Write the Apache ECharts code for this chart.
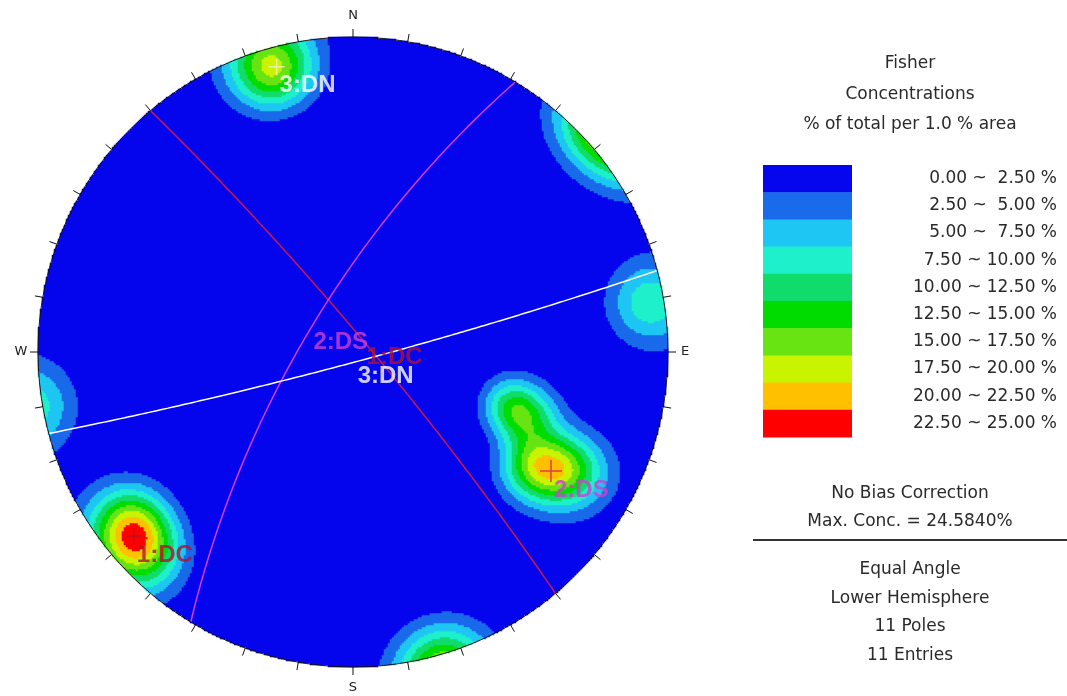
<!DOCTYPE html>
<html>
<head>
<meta charset="utf-8">
<title>Fisher Concentrations</title>
<script src="https://cdn.jsdelivr.net/npm/echarts@6/dist/echarts.min.js"></script>
<style>
  html, body { margin: 0; padding: 0; background: #fff; }
  #chart { width: 1067px; height: 696px; }
</style>
</head>
<body>
<div id="chart"></div>
<script>
// poles (degrees)
const poleTrend  = [233.0, 230.0, 226.0, 343.8, 344.5, 80.5, 123.2, 120.6, 118.4, 108.5, 110.9];
const polePlunge = [6.5, 5.5, 4.5, 3.1, 3.5, 2.5, 22.7, 17.7, 13.0, 34.6, 28.0];

// mean planes of the joint sets
const setNames    = ['1:DC', '2:DS', '3:DN'];
const setDipDir   = [50, 301, 165];
const setDip      = [84.5, 72.5, 86.3];
const lineColors  = ['#c81a4e', '#d83ce6', '#ffffff'];
const labelColors = ['#b0122e', '#cc40d4', '#ffffff'];
const crossColors = ['#b0122e', '#d0205a', '#f4f4c8'];

// contour classes
const levels = [0, 2.5, 5, 7.5, 10, 12.5, 15, 17.5, 20, 22.5, 25];
const levelColors = ['#0606ee', '#1a6aec', '#1ec6f4', '#1ef0cc', '#10dc6c',
                     '#00dc00', '#68e412', '#c8f400', '#ffc000', '#ff0000'];
const maxConc = 24.584;
const fisherK = 100;

const tickAngles = [0, 10, 20, 30, 40, 50, 60, 70, 80, 90, 100, 110, 120, 130, 140, 150, 160, 170,
                    180, 190, 200, 210, 220, 230, 240, 250, 260, 270, 280, 290, 300, 310, 320, 330, 340, 350];
const cardinalAngles = [0, 90, 180, 270];
const cardinalNames  = ['N', 'E', 'S', 'W'];

const infoLines = ['No Bias Correction', 'Max. Conc. = ' + maxConc.toFixed(4) + '%'];
const netLines  = ['Equal Angle', 'Lower Hemisphere', '11 Poles', '11 Entries'];

const rad = Math.PI / 180;
// east, north, down
function toVec(trend, plunge) {
  return [Math.cos(plunge * rad) * Math.sin(trend * rad),
          Math.cos(plunge * rad) * Math.cos(trend * rad),
          Math.sin(plunge * rad)];
}
// equal angle, lower hemisphere
function projVec(v) {
  return [v[0] / (1 + v[2]), v[1] / (1 + v[2])];
}
function project(trend, plunge) { return projVec(toVec(trend, plunge)); }

// fisher density on the net
const N = 315;
const poleVecs = poleTrend.map((t, i) => toVec(t, polePlunge[i]));
const cells = [];
let peak = 0;
for (let i = 0; i < N; i++) {
  for (let j = 0; j < N; j++) {
    const x = -1 + (i + 0.5) * 2 / N;
    const y = -1 + (j + 0.5) * 2 / N;
    const r2 = x * x + y * y;
    if (r2 > 1) continue;
    const d = 1 + r2;
    const e = 2 * x / d, n = 2 * y / d, dn = (1 - r2) / d;
    let s = 0;
    poleVecs.forEach(p => { s += Math.exp(fisherK * (Math.abs(e * p[0] + n * p[1] + dn * p[2]) - 1)); });
    cells.push([i, j, s]);
    if (s > peak) peak = s;
  }
}
cells.forEach(c => { c[2] = c[2] / peak * maxConc; });
const cats = Array.from({ length: N }, (_, i) => i);

// great circles
function greatCircle(dipDir, dip) {
  const sv = toVec(dipDir - 90, 0);
  const dv = toVec(dipDir, dip);
  const pts = [];
  for (let a = 0; a <= 180; a += 1) {
    const c = Math.cos(a * rad), s = Math.sin(a * rad);
    pts.push(projVec([c * sv[0] + s * dv[0], c * sv[1] + s * dv[1], Math.max(0, c * sv[2] + s * dv[2])]));
  }
  return pts;
}

const FONT = '"DejaVu Sans", sans-serif';
const LFONT = '"Liberation Sans", Arial, sans-serif';

const myChart = echarts.init(document.getElementById('chart'), null, { renderer: 'canvas' });

const graphics = [];
['Fisher', 'Concentrations', '% of total per 1.0 % area'].forEach((t, k) => {
  graphics.push({ type: 'text', x: 910, y: 64 + k * 30.5,
    style: { text: t, font: '17px ' + FONT, fill: '#2a2a2a', align: 'center', verticalAlign: 'middle' } });
});
levelColors.forEach((c, k) => {
  const y = 165 + k * 27.2;
  graphics.push({ type: 'rect', shape: { x: 763, y: y, width: 89, height: 27.7 }, style: { fill: c } });
  const lab = levels[k].toFixed(2) + ' ~ ' + levels[k + 1].toFixed(2).padStart(5, ' ') + ' %';
  graphics.push({ type: 'text', x: 1057, y: y + 13.6,
    style: { text: lab, font: '17px ' + FONT, fill: '#2a2a2a', align: 'right', verticalAlign: 'middle' } });
});
infoLines.forEach((t, k) => {
  graphics.push({ type: 'text', x: 910, y: 494 + k * 28,
    style: { text: t, font: '17px ' + FONT, fill: '#2a2a2a', align: 'center', verticalAlign: 'middle' } });
});
graphics.push({ type: 'line', shape: { x1: 753, y1: 540, x2: 1067, y2: 540 }, style: { stroke: '#333', lineWidth: 2 } });
netLines.forEach((t, k) => {
  graphics.push({ type: 'text', x: 910, y: 570 + k * 28.5,
    style: { text: t, font: '17px ' + FONT, fill: '#2a2a2a', align: 'center', verticalAlign: 'middle' } });
});

const series = [{
  type: 'heatmap',
  xAxisIndex: 0, yAxisIndex: 0,
  data: cells,
  progressive: 0,
  silent: true,
  z: 1
}];

setNames.forEach((name, k) => {
  series.push({
    type: 'line', xAxisIndex: 1, yAxisIndex: 1,
    data: greatCircle(setDipDir[k], setDip[k]),
    showSymbol: false, silent: true, z: 3,
    lineStyle: { color: lineColors[k], width: 1.5 }
  });
});

// net outline, ticks and compass letters
series.push({
  type: 'custom', xAxisIndex: 1, yAxisIndex: 1, silent: true, z: 4,
  data: tickAngles.map(a => [a]),
  renderItem(params, api) {
    const a = api.value(0);
    const c = api.coord([0, 0]);
    const R = api.size([1, 1])[0];
    const sx = Math.sin(a * rad), sy = -Math.cos(a * rad);
    const children = [{ type: 'line',
      shape: { x1: c[0] + R * sx, y1: c[1] + R * sy, x2: c[0] + (R + 8) * sx, y2: c[1] + (R + 8) * sy },
      style: { stroke: '#111', lineWidth: 1 } }];
    if (params.dataIndex === 0) {
      children.push({ type: 'circle', shape: { cx: c[0], cy: c[1], r: R },
        style: { fill: 'none', stroke: '#111', lineWidth: 1 } });
    }
    const ci = cardinalAngles.indexOf(a);
    if (ci >= 0) {
      const off = (a === 0 || a === 180) ? 21 : 17;
      children.push({ type: 'text', x: c[0] + (R + off) * sx, y: c[1] + (R + off) * sy,
        style: { text: cardinalNames[ci], font: '13px ' + FONT, fill: '#222', align: 'center', verticalAlign: 'middle' } });
    }
    return { type: 'group', children: children };
  }
});

// mean poles with labels
series.push({
  type: 'scatter', xAxisIndex: 1, yAxisIndex: 1, silent: true, z: 5,
  symbol: 'path://M0,10L20,10M10,0L10,20',
  data: setNames.map((name, k) => ({
    value: project(setDipDir[k] + 180, 90 - setDip[k]),
    name: name,
    symbolSize: k === 1 ? 22 : 16,
    itemStyle: { color: 'rgba(0,0,0,0)', borderColor: crossColors[k], borderWidth: 1.5 },
    label: { color: labelColors[k] }
  })),
  label: { show: true, formatter: '{b}', position: 'inside', align: 'left', verticalAlign: 'top',
    offset: [3, 7], fontFamily: LFONT, fontWeight: 'bold', fontSize: 24 }
});

// plane labels at the dip point of each great circle
series.push({
  type: 'scatter', xAxisIndex: 1, yAxisIndex: 1, silent: true, z: 5,
  symbolSize: 1,
  itemStyle: { color: 'rgba(0,0,0,0)' },
  data: setNames.map((name, k) => ({
    value: project(setDipDir[k], setDip[k]),
    name: name,
    label: { color: labelColors[k] }
  })),
  label: { show: true, formatter: '{b}', position: 'inside', align: 'left', verticalAlign: 'top',
    offset: [2, 3], fontFamily: LFONT, fontWeight: 'bold', fontSize: 24 }
});

myChart.setOption({
  animation: false,
  backgroundColor: '#fff',
  grid: [
    { left: 38, top: 37, width: 630, height: 630 },
    { left: 38, top: 37, width: 630, height: 630 }
  ],
  xAxis: [
    { type: 'category', data: cats, gridIndex: 0, show: false },
    { type: 'value', min: -1, max: 1, gridIndex: 1, show: false }
  ],
  yAxis: [
    { type: 'category', data: cats, gridIndex: 0, show: false },
    { type: 'value', min: -1, max: 1, gridIndex: 1, show: false }
  ],
  visualMap: {
    type: 'piecewise', show: false, seriesIndex: 0, dimension: 2,
    pieces: levelColors.map((c, k) => ({ gte: levels[k], lt: levels[k + 1], color: c }))
  },
  graphic: graphics,
  series: series
});
window.onresize = () => myChart.resize();
</script>
</body>
</html>
